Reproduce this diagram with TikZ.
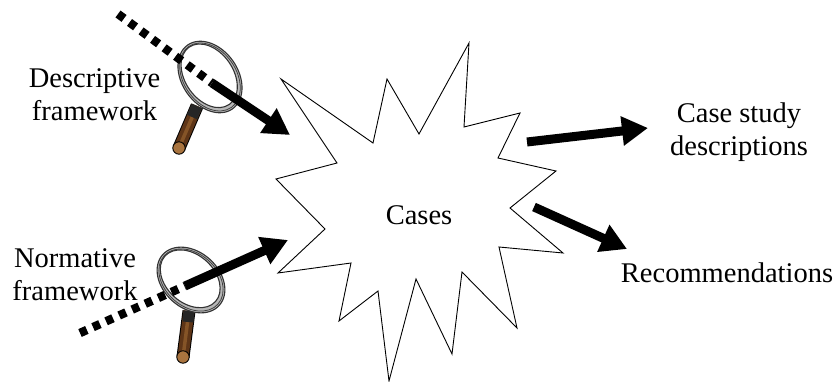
\documentclass[tikz,border=0pt]{standalone}
\usepackage{xcolor}
\usepackage{fontspec}
\setmainfont{Liberation Serif}
\usetikzlibrary{positioning, arrows.meta}
\definecolor{handlebrown}{HTML}{5E3517}
\definecolor{handlelight}{HTML}{855427}
\definecolor{handleend}{HTML}{A9743F}

\begin{document}
\begin{tikzpicture}[
        x=1pt, y=-1pt,
        label/.style={font=\fontsize{28.5}{33}\selectfont, align=center, inner sep=0pt},
        burst/.style={draw, line width=0.9pt, line join=miter, miter limit=20},
        dotline/.style={line width=8.5pt, dash pattern=on 7.5pt off 6.8pt},
        solidarrow/.style={line width=9pt, -{Triangle[length=26pt, width=28pt]}},
        lensring/.style={draw=black!80, line width=1.1pt, fill=black!28, even odd rule},
        lensinner/.style={draw=black!75, line width=0.8pt}
    ]
    \useasboundingbox (0,0) rectangle (836,382);

    \foreach \cx/\cy/\tilt/\ra/\rb/\hax/\hay/\hbx/\hby/\bx/\by in {
        210/77/-55/39/28/197/106/179/148/192/117,
        191/280/-42/38/28/189/311/183/357/188/322} {
        \draw[line width=13pt, black] (\hax,\hay) -- (\hbx,\hby);
        \draw[line width=11pt, handlebrown] (\hax,\hay) -- (\hbx,\hby);
        \draw[line width=3.5pt, handlelight] (\hax,\hay) -- (\hbx,\hby);
        \draw[line width=11pt, black!85] (\hax,\hay) -- (\bx,\by);
        \draw[fill=handleend, line width=0.9pt] (\hbx,\hby) circle (6.2pt);
        \draw[lensring] (\cx,\cy) ellipse[x radius=\ra pt, y radius=\rb pt, rotate=\tilt]
            (\cx-0.8,\cy-1.2) ellipse[x radius=\ra pt-4pt, y radius=\rb pt-4pt, rotate=\tilt];
        \draw[lensinner] (\cx,\cy) ellipse[x radius=\ra pt-1.8pt, y radius=\rb pt-1.8pt, rotate=\tilt];
    }

    \draw[burst] (281,79) -- (373,143) -- (387,79) -- (419,134) -- (469,43) -- (464,127)
        -- (520,113) -- (498,158) -- (556,171) -- (510,208) -- (563,253) -- (499,247)
        -- (517,328) -- (462,272) -- (452,354) -- (416,279) -- (389,381) -- (378,291)
        -- (339,321) -- (351,263) -- (278,273) -- (325,229) -- (276,179) -- (337,163) -- cycle;

    \node[label] (cases) at (419,215) {Cases};
    \node[label] (descriptive) at (94.5,95) {Descriptive\\framework};
    \node[label] (normative) at (75,275) {Normative\\framework};
    \node[label] (casestudy) at (739,132) {Case study\\descriptions};
    \node[label] (recommendations) at (727,273) {Recommendations};

    \coordinate (descstart) at (118,14);
    \coordinate (descmid) at (212,83);
    \coordinate (descend) at (290,135);
    \coordinate (normstart) at (80,333);
    \coordinate (normmid) at (185,286);
    \coordinate (normend) at (288,240);
    \coordinate (studystart) at (527,142);
    \coordinate (studyend) at (648,128);
    \coordinate (recstart) at (534,207);
    \coordinate (recend) at (627,249);

    \draw[dotline] (descstart) -- (descmid);
    \draw[solidarrow] (descmid) -- (descend);
    \draw[dotline] (normstart) -- (normmid);
    \draw[solidarrow] (normmid) -- (normend);
    \draw[solidarrow] (studystart) -- (studyend);
    \draw[solidarrow] (recstart) -- (recend);
\end{tikzpicture}
\end{document}
